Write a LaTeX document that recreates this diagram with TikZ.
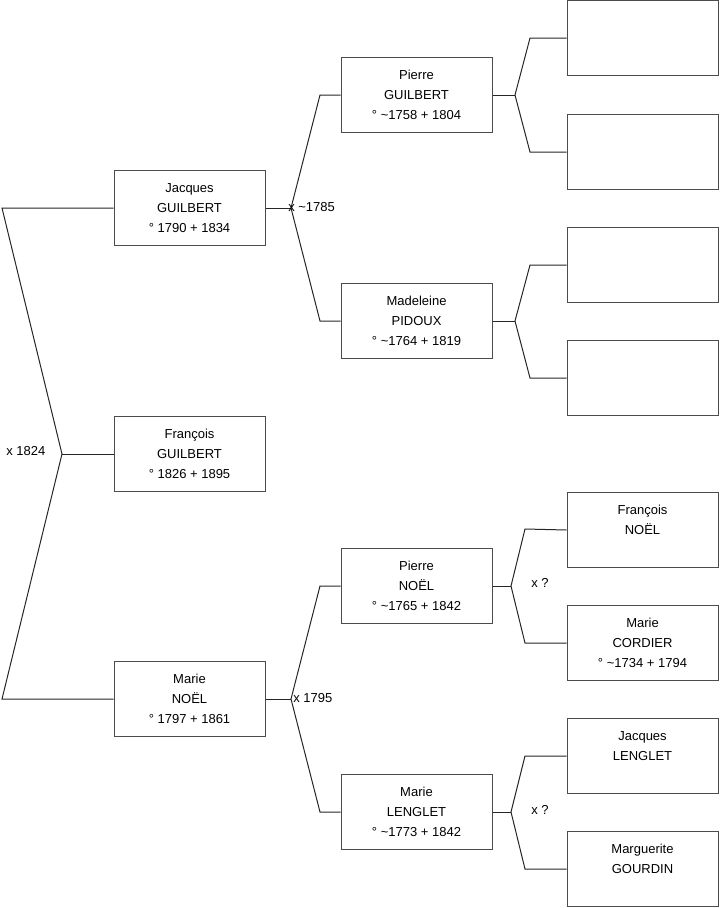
\documentclass[tikz,border=0pt]{standalone}
\usepackage{fontspec}
\setmainfont{Liberation Sans}
\newcommand{\tld}{\textasciitilde}
\begin{document}
\begin{tikzpicture}[x=0.75pt,y=-0.75pt,
  person/.style={draw=black!70,line width=0.75pt,rectangle,minimum width=113.25pt,minimum height=56.25pt,inner sep=0pt,align=center,font=\fontsize{9.75}{15}\selectfont},
  link/.style={draw=black!85,line width=0.75pt},
  mlabel/.style={font=\fontsize{9.75}{11}\selectfont,inner sep=0pt,anchor=west}]
\useasboundingbox (0,0) rectangle (719,908);
% column 1
\node[person] (jg) at (189.5,208) {Jacques\\GUILBERT\\° 1790 + 1834};
\node[person] (fg) at (189.5,454) {François\\GUILBERT\\° 1826 + 1895};
\node[person] (mn) at (189.5,699) {Marie\\NOËL\\° 1797 + 1861};
% column 2
\node[person] (pg) at (416.5,95) {Pierre\\GUILBERT\\° \tld1758 + 1804};
\node[person] (mp) at (416.5,321) {Madeleine\\PIDOUX\\° \tld1764 + 1819};
\node[person] (pn) at (416.5,586) {Pierre\\NOËL\\° \tld1765 + 1842};
\node[person] (ml) at (416.5,812) {Marie\\LENGLET\\° \tld1773 + 1842};
% column 3
\node[person] (r1) at (642.5,38) {};
\node[person] (r2) at (642.5,152) {};
\node[person] (r3) at (642.5,265) {};
\node[person] (r4) at (642.5,378) {};
\node[person] (fn) at (642.5,530) {François\\NOËL\\\mbox{}};
\node[person] (mc) at (642.5,643) {Marie\\CORDIER\\° \tld1734 + 1794};
\node[person] (jl) at (642.5,756) {Jacques\\LENGLET\\\mbox{}};
\node[person] (gd) at (642.5,869) {Marguerite\\GOURDIN\\\mbox{}};
% left bracket
\coordinate (aL) at (62,454);
\coordinate (cLt) at (2,208);
\coordinate (cLb) at (2,699);
\draw[link] (jg.west) -- (cLt) -- (aL) -- (cLb) -- (mn.west);
\draw[link] (aL) -- (fg.west);
\node[mlabel] (m1) at (6,451) {x 1824};
% middle top bracket
\coordinate (aM1) at (291,208);
\coordinate (cM1t) at (320,95);
\coordinate (cM1b) at (320,321);
\draw[link] (jg.east) -- (aM1);
\draw[link] (pg.west) -- (cM1t) -- (aM1) -- (cM1b) -- (mp.west);
\node[mlabel] (m2) at (288,207) {x \tld1785};
% middle bottom bracket
\coordinate (aM2) at (291,699);
\coordinate (cM2t) at (320,586);
\coordinate (cM2b) at (320,812);
\draw[link] (mn.east) -- (aM2);
\draw[link] (pn.west) -- (cM2t) -- (aM2) -- (cM2b) -- (ml.west);
\node[mlabel] (m3) at (293,698) {x 1795};
% right brackets
\coordinate (aR1) at (515,95);
\coordinate (cR1t) at (530,38);
\coordinate (cR1b) at (530,152);
\draw[link] (pg.east) -- (aR1);
\draw[link] (r1.west) -- (cR1t) -- (aR1) -- (cR1b) -- (r2.west);
\coordinate (aR2) at (515,321);
\coordinate (cR2t) at (530,265);
\coordinate (cR2b) at (530,378);
\draw[link] (mp.east) -- (aR2);
\draw[link] (r3.west) -- (cR2t) -- (aR2) -- (cR2b) -- (r4.west);
\coordinate (aR3) at (511,586);
\coordinate (cR3t) at (525,529);
\coordinate (cR3b) at (525,643);
\draw[link] (pn.east) -- (aR3);
\draw[link] (fn.west) -- (cR3t) -- (aR3) -- (cR3b) -- (mc.west);
\node[mlabel] (m4) at (531,583) {x ?};
\coordinate (aR4) at (511,812);
\coordinate (cR4t) at (525,756);
\coordinate (cR4b) at (525,869);
\draw[link] (ml.east) -- (aR4);
\draw[link] (jl.west) -- (cR4t) -- (aR4) -- (cR4b) -- (gd.west);
\node[mlabel] (m5) at (531,810) {x ?};
\end{tikzpicture}
\end{document}
